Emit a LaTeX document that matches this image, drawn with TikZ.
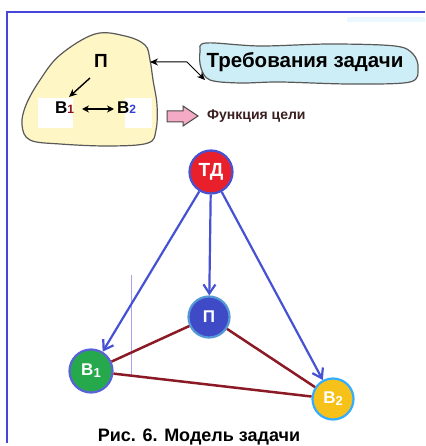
\documentclass[tikz,border=0pt]{standalone}
\usepackage{fontspec}
\setmainfont{Liberation Sans}
\usetikzlibrary{arrows.meta}
\definecolor{framec}{HTML}{4646DC}
\definecolor{blobfill}{HTML}{FFF6C6}
\definecolor{callfill}{HTML}{CDEEF6}
\definecolor{pinkf}{HTML}{F4A9C4}
\definecolor{darkred}{HTML}{8B1A26}
\definecolor{arrblue}{HTML}{4652D2}
\definecolor{tdred}{HTML}{E8202C}
\definecolor{pblue}{HTML}{3F4BC6}
\definecolor{bgreen}{HTML}{26A84C}
\definecolor{bgold}{HTML}{F6C21A}
\definecolor{subred}{HTML}{8B1010}
\definecolor{subblue}{HTML}{3040D8}
\definecolor{textdark}{HTML}{3A2020}
\definecolor{faint}{HTML}{A8A0F0}
\tikzset{
  circ/.style={circle, minimum size=43pt, inner sep=0pt, line width=2.2pt, text=white, font=\bfseries\fontsize{17}{17}\selectfont},
  bluearr/.style={arrblue, line width=2.2pt, -{Straight Barb[length=9pt,width=12pt]}},
  redline/.style={darkred, line width=2.5pt},
  blobtext/.style={font=\bfseries\fontsize{17}{17}\selectfont, inner sep=1pt},
}
\begin{document}
\begin{tikzpicture}[x=1pt,y=-1pt]
\useasboundingbox (0,0) rectangle (425,446);
\fill[white] (0,0) rectangle (425,446);
\fill[cyan!8] (347,17) rectangle (425,22);
\draw[framec, line width=2.5pt] (7,443) -- (7,12) -- (425,12);
% blob
\draw[fill=blobfill, draw=black!65, line width=1.2pt] plot[smooth cycle, tension=0.6] coordinates {(95,34) (125,36) (145,45) (150,60) (153,80) (157,105) (156,130) (148,143) (110,146) (60,144) (30,140) (22,125) (26,105) (40,80) (60,55)};
\fill[white] (38,98) rectangle (73,128);
\fill[white] (125,98) rectangle (152,128);
\node[font=\bfseries\fontsize{19}{19}\selectfont, inner sep=1pt] (pb) at (101,61) {П};
\node[blobtext, anchor=base west] (b1) at (54,114) {В{\fontsize{12}{12}\selectfont\color{subred}1}};
\node[blobtext, anchor=base west] (b2) at (116,114) {В{\fontsize{12}{12}\selectfont\color{subblue}2}};
\coordinate (pstart) at (90,78);
\coordinate (pend) at (69,97);
\draw[black, line width=1.4pt, -{Stealth[length=8pt,width=7pt]}] (pstart) -- (pend);
\coordinate (bl) at (82,109);
\coordinate (br) at (114,109);
\draw[black, line width=1.4pt, {Stealth[length=7pt,width=7pt]}-{Stealth[length=7pt,width=7pt]}] (bl) -- (br);
% callout
\draw[fill=callfill, draw=black!65, line width=1.2pt] plot[smooth cycle, tension=0.55] coordinates {(206,43) (260,46) (330,44) (395,46) (413,54) (418,68) (410,82) (350,84) (280,82) (240,83) (210,80) (201,68) (200,52)};
\node[font=\bfseries\fontsize{20.5}{20.5}\selectfont, inner sep=0pt] (req) at (305,62) {Требования задачи};
\coordinate (blobr) at (150,62);
\coordinate (junc) at (187,62);
\coordinate (reqp) at (205,80);
\draw[black, line width=1pt, {Stealth[length=8pt,width=7pt]}-{Stealth[length=8pt,width=7pt]}] (blobr) -- (junc) -- (reqp);
% pink arrow
\draw[fill=pinkf, draw=black!70, line width=1pt] (167,111) -- (183,111) -- (183,106) -- (198,116) -- (183,126) -- (183,122) -- (167,122) -- cycle;
\node[font=\bfseries\fontsize{14}{14}\selectfont, text=textdark, anchor=west, inner sep=0pt] (func) at (207,116) {Функция цели};
% faint line
\draw[faint, line width=0.8pt] (131,275) -- (131,377);
% graph
\node[circ, fill=tdred, draw=arrblue, font=\bfseries\fontsize{19}{19}\selectfont] (td) at (211,172) {ТД};
\node[circ, fill=pblue, draw=cyan!60!blue!70, minimum size=41pt] (p) at (209,317) {П};
\node[circ, fill=bgreen, draw=arrblue!90] (v1) at (91,371) {В\raisebox{-2pt}{\fontsize{13}{13}\selectfont 1}};
\node[circ, fill=bgold, draw=blue!40!cyan!80, minimum size=41pt] (v2) at (333,399) {В\raisebox{-2pt}{\fontsize{13}{13}\selectfont 2}};
\draw[redline] (p) -- (v1);
\draw[redline] (p) -- (v2);
\draw[redline] (v1) -- (v2);
\draw[bluearr] (td) -- (p);
\draw[bluearr] (td) -- (v1);
\draw[bluearr] (td) -- (v2);
\node[font=\bfseries\fontsize{18}{18}\selectfont, inner sep=0pt] (cap) at (199,437) {Рис. 6. Модель задачи};
\end{tikzpicture}
\end{document}
